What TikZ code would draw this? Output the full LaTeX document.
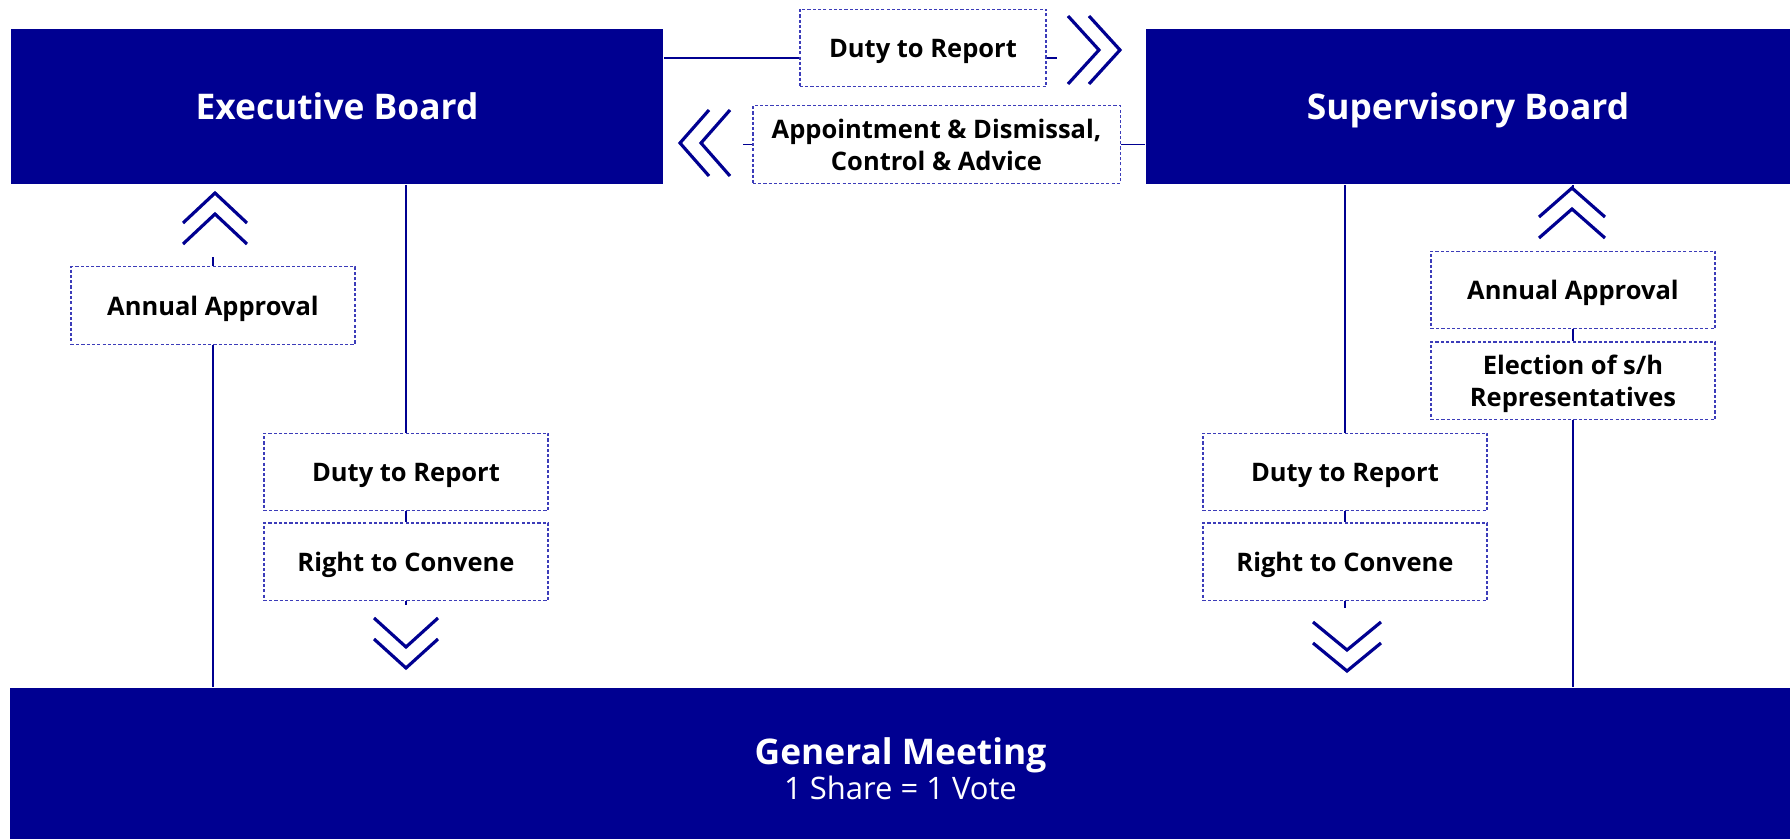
\documentclass[tikz,border=0pt]{standalone}
\usepackage{fontspec}
\setmainfont{Open Sans}
\usetikzlibrary{positioning}
\definecolor{boardblue}{RGB}{0,0,145}
\definecolor{dotblue}{RGB}{60,60,185}

\begin{document}
\begin{tikzpicture}[x=0.01cm, y=-0.01cm,
  board/.style={fill=boardblue, text=white, inner sep=0pt, font=\bfseries\fontsize{10.05}{12}\selectfont},
  role/.style={draw=dotblue, line width=0.35pt, dash pattern=on 0.9pt off 0.6pt, fill=white, align=center, inner sep=0pt, text depth=0pt, minimum width=2.84cm, minimum height=0.775cm, font=\bfseries\fontsize{7.25}{9.2}\selectfont},
  link/.style={draw=boardblue, line width=0.55pt},
  chev/.style={draw=boardblue, line width=0.9pt}]
\useasboundingbox (0,0) rectangle (1790,839);

% Boards
\node[board, minimum width=6.52cm, minimum height=1.55cm, text depth=0pt] (exec) at (337,106.5) {Executive Board};
\node[board, minimum width=6.44cm, minimum height=1.55cm, text depth=0pt] (sup) at (1468,106.5) {Supervisory Board};
\node[board, minimum width=17.79cm, minimum height=1.51cm, align=center] (gm) at (900.5,763.5)
  {\rule{0pt}{10.6pt}General Meeting\\[-2pt]{\mdseries\fontsize{8.8}{10}\selectfont 1 Share = 1 Vote}};

% Between the boards
\node[role, minimum width=2.46cm] (dutyTop) at (923,48) {Duty to Report};
\node[role, minimum width=3.67cm] (appoint) at (936.5,144.5) {Appointment \& Dismissal,\\Control \& Advice};
\draw[link] (exec.east |- 0,58) -- (dutyTop.west |- 0,58);
\draw[link] (dutyTop.east |- 0,58) -- ++(10,0);
\draw[link] (sup.west |- appoint.east) -- (appoint.east);
\draw[link] (appoint.west) -- ++(-9,0);
\coordinate (toSup) at (1099,50);
\draw[chev] (toSup) ++(-31,-34) -- ++(31,34) -- ++(-31,34);
\draw[chev] (toSup) ++(-10,-34) -- ++(31,34) -- ++(-31,34);
\coordinate (toExec) at (680,143);
\draw[chev] (toExec) ++(29,-33) -- ++(-29,33) -- ++(29,33);
\draw[chev] (toExec) ++(50,-33) -- ++(-29,33) -- ++(29,33);

% Executive side
\node[role] (annualL) at (213,305.5) {Annual Approval};
\node[role] (dutyL) at (406,472) {Duty to Report};
\node[role, below=0.11cm of dutyL] (conveneL) {Right to Convene};
\draw[link] (annualL.north) -- ++(0,-9);
\draw[link] (annualL.south) -- (annualL.south |- gm.north);
\draw[link] (exec.south -| dutyL.north) -- (dutyL.north);
\draw[link] (dutyL.south) -- (conveneL.north);
\draw[link] (conveneL.south) -- ++(0,4);
\coordinate (upL) at (215,193);
\draw[chev] (upL) ++(-32,30) -- ++(32,-30) -- ++(32,30);
\draw[chev] (upL) ++(-32,51) -- ++(32,-30) -- ++(32,30);
\coordinate (dnL) at (406,647);
\draw[chev] (dnL) ++(-32,-29) -- ++(32,29) -- ++(32,-29);
\draw[chev] (dnL) ++(-32,-8) -- ++(32,29) -- ++(32,-29);

% Supervisory side
\node[role] (dutyR) at (1345,472) {Duty to Report};
\node[role, below=0.11cm of dutyR] (conveneR) {Right to Convene};
\node[role] (annualR) at (1573,290) {Annual Approval};
\node[role, below=0.12cm of annualR] (electR) {Election of s/h\\Representatives};
\draw[link] (sup.south -| dutyR.north) -- (dutyR.north);
\draw[link] (dutyR.south) -- (conveneR.north);
\draw[link] (conveneR.south) -- ++(0,7);
\draw[link] (sup.south -| annualR.north) -- ++(0,5);
\draw[link] (annualR.south) -- (electR.north);
\draw[link] (electR.south) -- (electR.south |- gm.north);
\coordinate (upR) at (1572,188);
\draw[chev] (upR) ++(-33,29) -- ++(33,-29) -- ++(33,29);
\draw[chev] (upR) ++(-33,50) -- ++(33,-29) -- ++(33,29);
\coordinate (dnR) at (1347,650);
\draw[chev] (dnR) ++(-34,-28) -- ++(34,28) -- ++(34,-28);
\draw[chev] (dnR) ++(-34,-7) -- ++(34,28) -- ++(34,-28);
\end{tikzpicture}
\end{document}
